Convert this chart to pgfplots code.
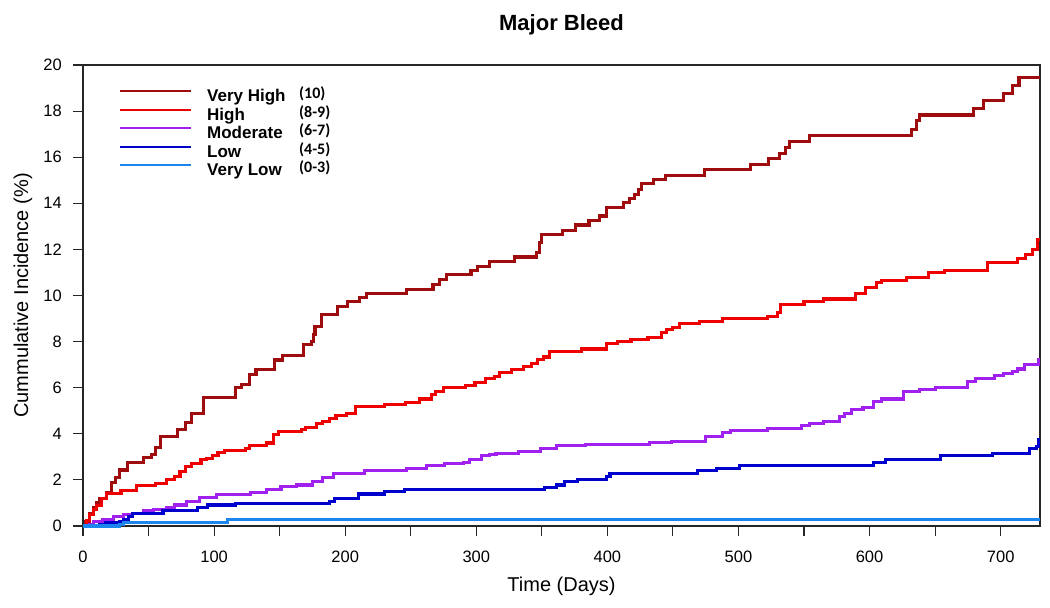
\documentclass[border=0pt]{standalone}
\usepackage{fontspec}
\setmainfont{Liberation Sans}
\newfontfamily\rangefont{Carlito}
\usepackage{pgfplots}
\pgfplotsset{compat=1.18}

\definecolor{cVH}{RGB}{158,12,14}
\definecolor{cH}{RGB}{238,0,0}
\definecolor{cM}{RGB}{160,32,240}
\definecolor{cL}{RGB}{0,0,205}
\definecolor{cVL}{RGB}{28,134,238}

\newcommand{\leg}[2]{\makebox[92bp][l]{\bfseries\fontsize{17bp}{20bp}\selectfont #1}{\rangefont\bfseries\fontsize{16bp}{18bp}\selectfont\raisebox{3bp}{#2}}}

\begin{document}
\begin{tikzpicture}
\begin{axis}[
  name=ax,
  scale only axis,
  width=957bp, height=461bp,
  xmin=0, xmax=730, ymin=0, ymax=20,
  axis line style={line width=1.1bp, black!85},
  xtick={0,100,...,700},
  minor xtick={50,150,...,650},
  ytick={0,2,...,20},
  tick align=outside,
  xtick pos=left, ytick pos=left,
  major tick length=9.5bp, minor tick length=9.5bp,
  every tick/.style={line width=1.1bp, black!85},
  tick label style={font=\fontsize{16.5bp}{19bp}\selectfont},
  /pgf/number format/assume math mode=true,
  xticklabel style={anchor=base, inner sep=0pt, yshift=-27.2bp},
  yticklabel style={anchor=east, inner sep=0pt, xshift=-11.5bp},
  clip=false,
  legend cell align=left,
  legend style={at={(rel axis cs:0,1)}, anchor=north west, xshift=36bp, yshift=-24bp,
    draw=none, fill=none, inner sep=0pt, row sep=1.5bp,
    nodes={inner sep=0pt, text height=12.5bp, text depth=4.5bp},
    /tikz/every odd column/.append style={column sep=15bp}},
  legend image code/.code={\draw[#1, line width=2bp] (0bp,6.3bp) -- (71bp,6.3bp);},
]
\addplot[const plot, cVH, line width=3.1bp] coordinates {
(0,0) (2,0.2) (5,0.56) (8,0.8) (10,1.0) (13,1.2) (18,1.43) (22,1.87) (25,2.1) (28,2.43)
(34,2.74) (46,2.96) (52,3.1) (55,3.4) (59,3.88) (72,4.17) (78,4.5) (83,4.9) (92,5.56)
(116,6.0) (121,6.13) (127,6.57) (132,6.78) (146,7.2) (152,7.39) (168,7.87) (174,8.0) (176,8.3)
(177,8.66) (182,9.17) (194,9.52) (202,9.74) (211,9.9) (216,10.08) (247,10.26) (267,10.48)
(272,10.7) (277,10.9) (296,11.09) (301,11.27) (310,11.46) (329,11.67) (346,11.87) (348,12.3)
(350,12.65) (366,12.83) (376,13.06) (386,13.27) (394,13.45) (399,13.8) (412,14.03) (417,14.2)
(421,14.39) (424,14.6) (426,14.85) (435,15.04) (444,15.22) (474,15.48) (509,15.7) (523,15.94)
(531,16.16) (536,16.42) (539,16.68) (554,16.93) (632,17.22) (636,17.58) (638,17.83) (679,18.1)
(687,18.45) (702,18.78) (709,19.1) (714,19.46) (730,19.46)
};
\addlegendentry{\leg{Very High}{(10)}}
\addplot[const plot, cH, line width=3.1bp] coordinates {
(0,0) (3,0.25) (5,0.48) (8,0.7) (10,0.9) (14,1.2) (18,1.42) (29,1.53) (41,1.74) (55,1.86)
(64,2.0) (70,2.14) (74,2.36) (78,2.58) (83,2.72) (90,2.87) (94,2.94) (99,3.04) (103,3.19)
(108,3.27) (124,3.38) (127,3.48) (140,3.6) (145,3.96) (149,4.1) (167,4.17) (170,4.29)
(178,4.43) (183,4.54) (188,4.68) (193,4.78) (201,4.9) (208,5.19) (230,5.26) (246,5.36)
(257,5.51) (266,5.72) (269,5.84) (275,5.99) (292,6.1) (299,6.23) (307,6.38) (314,6.49)
(318,6.67) (327,6.78) (336,6.93) (342,7.04) (347,7.22) (351,7.33) (356,7.58) (380,7.68)
(399,7.9) (408,7.99) (418,8.09) (431,8.19) (441,8.38) (445,8.52) (450,8.62) (455,8.78)
(470,8.88) (488,9.0) (522,9.1) (530,9.28) (532,9.6) (550,9.75) (565,9.85) (589,10.09)
(597,10.33) (605,10.55) (609,10.65) (628,10.77) (645,10.99) (657,11.1) (690,11.45)
(713,11.6) (719,11.78) (724,12.0) (728,12.43) (730,12.43)
};
\addlegendentry{\leg{High}{(8-9)}}
\addplot[const plot, cM, line width=3.1bp] coordinates {
(0,0) (5,0.05) (8,0.19) (15,0.29) (23,0.4) (31,0.51) (38,0.55) (46,0.65) (54,0.72) (64,0.81)
(70,0.91) (79,1.06) (89,1.23) (102,1.35) (128,1.45) (140,1.57) (151,1.71) (163,1.78)
(175,1.93) (183,2.12) (191,2.29) (215,2.4) (247,2.51) (262,2.61) (276,2.7) (290,2.75)
(295,2.87) (304,3.04) (310,3.09) (315,3.16) (332,3.23) (349,3.38) (361,3.49) (383,3.55)
(432,3.62) (449,3.67) (475,3.88) (488,4.06) (494,4.13) (522,4.22) (548,4.35) (554,4.43)
(565,4.54) (577,4.75) (581,4.9) (586,5.04) (595,5.16) (603,5.4) (609,5.51) (626,5.84)
(638,5.91) (650,6.01) (675,6.27) (681,6.38) (695,6.52) (702,6.6) (709,6.71) (713,6.81)
(718,7.0) (729,7.22) (730,7.22)
};
\addlegendentry{\leg{Moderate}{(6-7)}}
\addplot[const plot, cL, line width=3.1bp] coordinates {
(0,0) (13,0.05) (17,0.13) (28,0.19) (31,0.26) (35,0.4) (38,0.55) (61,0.69) (87,0.81)
(95,0.91) (116,0.99) (188,1.06) (192,1.2) (210,1.39) (230,1.49) (245,1.59) (352,1.68)
(361,1.78) (367,1.93) (377,2.0) (399,2.14) (402,2.29) (469,2.39) (483,2.51) (501,2.62)
(603,2.75) (612,2.87) (654,3.04) (694,3.16) (722,3.38) (727,3.45) (729,3.74) (730,3.74)
};
\addlegendentry{\leg{Low}{(4-5)}}
\addplot[const plot, cVL, line width=3.1bp] coordinates {
(0,0) (28,0.05) (31,0.15) (110,0.29) (730,0.29)
};
\addlegendentry{\leg{Very Low}{(0-3)}}

\node[anchor=base, font=\bfseries\fontsize{22bp}{26bp}\selectfont] at ([yshift=34.3bp]rel axis cs:0.5,1) {Major Bleed};
\node[anchor=base, font=\fontsize{20bp}{24bp}\selectfont] at ([yshift=-65bp]rel axis cs:0.5,0) {Time (Days)};
\node[anchor=center, rotate=90, font=\fontsize{20bp}{24bp}\selectfont] at ([xshift=-60bp]rel axis cs:0,0.5) {Cummulative Incidence (\%)};
\end{axis}
\pgfresetboundingbox
\path[use as bounding box] ([shift={(-83bp,-82bp)}]ax.south west) rectangle ([shift={(10bp,65bp)}]ax.north east);
\end{tikzpicture}
\end{document}
